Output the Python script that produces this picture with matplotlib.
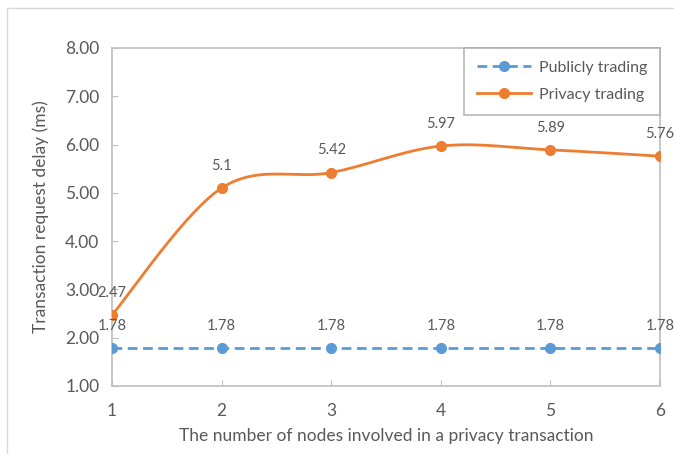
import numpy as np
import matplotlib
matplotlib.use("Agg")
import matplotlib.pyplot as plt
from matplotlib.patches import Rectangle

nodes = [1, 2, 3, 4, 5, 6]
public_delay = [1.78, 1.78, 1.78, 1.78, 1.78, 1.78]
privacy_delay = [2.47, 5.1, 5.42, 5.97, 5.89, 5.76]
public_labels = ["1.78", "1.78", "1.78", "1.78", "1.78", "1.78"]
privacy_labels = ["2.47", "5.1", "5.42", "5.97", "5.89", "5.76"]
yticks = [1, 2, 3, 4, 5, 6, 7, 8]

BLUE = "#5B9BD5"
ORANGE = "#ED7D31"
TXT = "#595959"
GRID = "#BFBFBF"

plt.rcParams['font.family'] = ['Lato', 'DejaVu Sans']


def smooth(x, y, n=40):
    x = np.asarray(x, float)
    y = np.asarray(y, float)
    px = np.concatenate([[x[0]], x, [x[-1]]])
    py = np.concatenate([[y[0]], y, [y[-1]]])
    xs, ys = [], []
    t = np.linspace(0, 1, n)
    for i in range(1, len(px) - 2):
        p0, p1, p2, p3 = [np.array([px[j], py[j]]) for j in (i - 1, i, i + 1, i + 2)]
        c1 = p1 + (p2 - p0) / 6.0
        c2 = p2 - (p3 - p1) / 6.0
        b = ((1 - t) ** 3)[:, None] * p1 + (3 * (1 - t) ** 2 * t)[:, None] * c1 \
            + (3 * (1 - t) * t ** 2)[:, None] * c2 + (t ** 3)[:, None] * p2
        xs.extend(b[:, 0])
        ys.extend(b[:, 1])
    return np.array(xs), np.array(ys)


fig = plt.figure(figsize=(6.74, 4.54), dpi=100)
fig.patches.append(Rectangle((7 / 674, -0.01), 1.2, (454 - 8) / 454 + 0.01,
                             transform=fig.transFigure, fill=False,
                             edgecolor="#D9D9D9", linewidth=1.0))
ax = fig.add_axes([112 / 674, 68 / 454, (660 - 112) / 674, (386 - 48) / 454])

ax.plot(nodes, public_delay, color=BLUE, linestyle=(0, (3.5, 2)), linewidth=2,
        marker="o", markersize=7, label="Publicly trading", zorder=3)
sx, sy = smooth(nodes, privacy_delay)
ax.plot(sx, sy, color=ORANGE, linewidth=2, zorder=3)
ax.plot(nodes, privacy_delay, color=ORANGE, linestyle="none", marker="o",
        markersize=7, zorder=4)
ax.plot([], [], color=ORANGE, linewidth=2, marker="o", markersize=7,
        label="Privacy trading")

for x, y, s in zip(nodes, public_delay, public_labels):
    ax.annotate(s, (x, y), xytext=(0, 11), textcoords="offset points",
                ha="center", va="bottom", fontsize=10.5, color=TXT, zorder=5)
for x, y, s in zip(nodes, privacy_delay, privacy_labels):
    ax.annotate(s, (x, y), xytext=(0, 11), textcoords="offset points",
                ha="center", va="bottom", fontsize=10.5, color=TXT, zorder=5)

ax.set_xlim(1, 6)
ax.set_ylim(1, 8)
ax.set_xticks(nodes)
ax.set_xticklabels([str(n) for n in nodes])
ax.set_yticks(yticks)
ax.set_yticklabels([f"{v:.2f}" for v in yticks])
ax.tick_params(direction="in", length=4, color=GRID, labelcolor=TXT,
               labelsize=12.5)
ax.tick_params(axis="x", pad=12)
ax.tick_params(axis="y", pad=9)
for sp in ax.spines.values():
    sp.set_color(GRID)
    sp.set_linewidth(1.2)

ax.set_xlabel("The number of nodes involved in a privacy transaction",
              fontsize=12.5, color=TXT, labelpad=7)
ax.set_ylabel("Transaction request delay (ms)", fontsize=12.5, color=TXT,
              labelpad=12)

leg = ax.legend(loc="upper right", bbox_to_anchor=(1.0, 1.0), frameon=True,
                fancybox=False, edgecolor="#A6A6A6", fontsize=11.5,
                labelcolor=TXT, handlelength=3.4, borderpad=0.8,
                labelspacing=0.8, borderaxespad=0.0, handletextpad=0.5)
leg.get_frame().set_linewidth(1.2)

fig.savefig("out.png", dpi=100)
